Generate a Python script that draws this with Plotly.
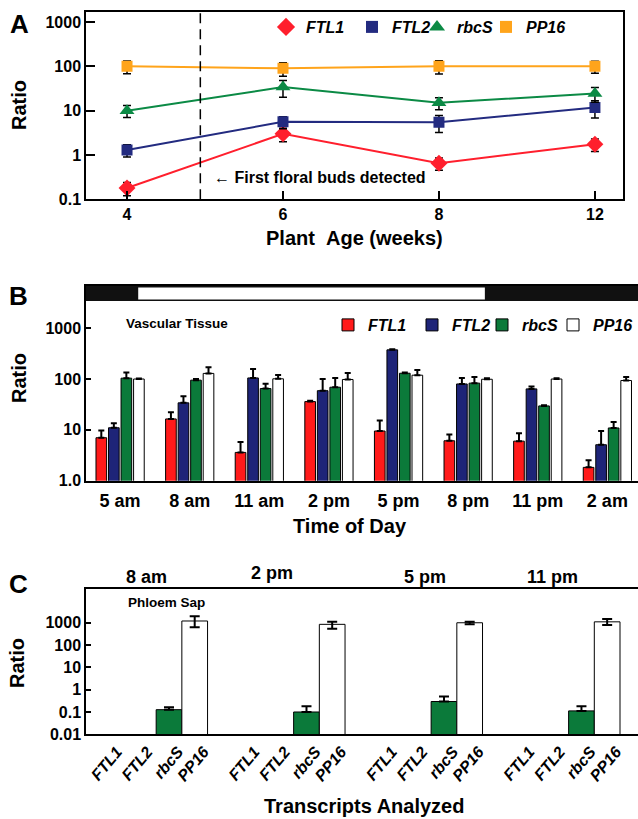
import plotly.graph_objects as go

W, H = 638, 819
FONT = "Liberation Sans, Arial, Helvetica, sans-serif"

# ---------------- Panel A data ----------------
ages = ["4", "6", "8", "12"]
a_ftl1 = [0.18, 3.0, 0.65, 1.75]
a_ftl1_err = [0.06, 1.0, 0.2, 0.55]
a_ftl2 = [1.3, 5.6, 5.5, 11.8]
a_ftl2_err = [0.4, 1.7, 2.3, 5.0]
a_rbcs = [10, 34, 15, 24.5]
a_rbcs_err = [3, 14, 4.5, 9]
a_pp16 = [100, 90, 100, 100]
a_pp16_err = [32, 30, 33, 30]

# ---------------- Panel B data ----------------
times = ["5 am", "8 am", "11 am", "2 pm", "5 pm", "8 pm", "11 pm", "2 am"]
b_ftl1 = [7.0, 16.4, 3.6, 36, 9.5, 6.1, 6.0, 1.83]
b_ftl1_err = [2.7, 5.8, 2.2, 1.5, 5.7, 2.0, 2.6, 0.7]
b_ftl2 = [11, 34, 105, 59, 375, 80, 64, 5.1]
b_ftl2_err = [2.5, 12, 53, 41, 10, 25, 7, 4.4]
b_rbcs = [104, 95, 65, 69, 130, 83, 29.6, 10.9]
b_rbcs_err = [31, 5, 16, 36, 4.5, 27, 1, 3.4]
b_pp16 = [100, 129, 101, 98, 119, 99, 100, 93.5]
b_pp16_err = [3, 41, 19, 34, 32, 5, 4, 16]

# ---------------- Panel C data ----------------
c_times = ["8 am", "2 pm", "5 pm", "11 pm"]
c_genes = ["FTL1", "FTL2", "rbcS", "PP16"]
c_rbcs = [0.127, 0.10, 0.295, 0.112]
c_rbcs_err = [0.035, 0.08, 0.2, 0.07]
c_pp16 = [1200, 850, 1000, 1100]
c_pp16_err_plus = [750, 250, 120, 380]
c_pp16_err_minus = [570, 310, 150, 300]

# colours
A_COL = {"FTL1": "#FF1F2D", "FTL2": "#232B80", "rbcS": "#0B8A45", "PP16": "#FFA41B"}
B_COL = {"FTL1": "#FF1A1A", "FTL2": "#1E2478", "rbcS": "#0B7A3A", "PP16": "#FFFFFF"}


def px_x(x):
    return x / W


def px_y(y):
    return 1 - y / H


fig = go.Figure()

# ---- Panel A traces ----
a_series = [
    ("FTL1", a_ftl1, a_ftl1_err, "diamond", 13),
    ("FTL2", a_ftl2, a_ftl2_err, "square", 11),
    ("rbcS", a_rbcs, a_rbcs_err, "triangle-up", 13),
    ("PP16", a_pp16, a_pp16_err, "square", 11),
]
for name, vals, err, sym, size in a_series:
    fig.add_trace(go.Scatter(
        x=ages, y=vals, mode="lines+markers", name=name,
        line=dict(color=A_COL[name], width=2),
        marker=dict(symbol=sym, size=size, color=A_COL[name]),
        error_y=dict(type="data", array=err, color="black", thickness=1.5, width=4),
        xaxis="x", yaxis="y", showlegend=False))

# legend-only entries for panel A (markers only)
a_leg_x = [266, 352, 417, 486]
for i, (name, vals, err, sym, size) in enumerate(a_series):
    lg = "legend" if i == 0 else f"legend{i + 1}"
    fig.add_trace(go.Scatter(
        x=[None], y=[None], mode="markers", name=name,
        marker=dict(symbol=sym, size=size + 1, color=A_COL[name]),
        xaxis="x", yaxis="y", showlegend=True, legend=lg))

# ---- Panel B traces ----
b_series = [
    ("FTL1", b_ftl1, b_ftl1_err),
    ("FTL2", b_ftl2, b_ftl2_err),
    ("rbcS", b_rbcs, b_rbcs_err),
    ("PP16", b_pp16, b_pp16_err),
]
b_leg_x = [328, 412, 482, 553]
for i, (name, vals, err) in enumerate(b_series):
    fig.add_trace(go.Bar(
        x=times, y=vals, name=name,
        marker=dict(color=B_COL[name], line=dict(color="black", width=1)),
        error_y=dict(type="data", symmetric=False, array=err,
                     arrayminus=[0] * len(err), color="black", thickness=2, width=3),
        xaxis="x2", yaxis="y2", showlegend=True, legend=f"legend{i + 5}"))

# ---- Panel C traces ----
GROUP_STEP = 5.35
gene_offsets = [-2.38, -1.19, 0.0, 1.0]
c_rbcs_x = [g * GROUP_STEP + gene_offsets[2] for g in range(len(c_times))]
c_pp16_x = [g * GROUP_STEP + gene_offsets[3] for g in range(len(c_times))]
fig.add_trace(go.Bar(
    x=c_rbcs_x, y=c_rbcs, width=1, offset=-0.5, name="rbcS",
    marker=dict(color=B_COL["rbcS"], line=dict(color="black", width=1)),
    error_y=dict(type="data", symmetric=False, array=c_rbcs_err,
                 arrayminus=[0] * 4, color="black", thickness=2, width=5),
    xaxis="x3", yaxis="y3", showlegend=False))
fig.add_trace(go.Bar(
    x=c_pp16_x, y=c_pp16, width=1, offset=-0.5, name="PP16",
    marker=dict(color="white", line=dict(color="black", width=1)),
    error_y=dict(type="data", symmetric=False, array=c_pp16_err_plus,
                 arrayminus=c_pp16_err_minus, color="black", thickness=2, width=5),
    xaxis="x3", yaxis="y3", showlegend=False))

c_tickvals = [g * GROUP_STEP + off for g in range(len(c_times)) for off in gene_offsets]
c_ticktext = [gname for g in range(len(c_times)) for gname in c_genes]

# ---------------- Layout ----------------
tickfont = dict(family=FONT, size=16, color="black", weight="bold")
axis_common = dict(showline=True, linecolor="black", linewidth=1.5, showgrid=False,
                   zeroline=False, tickcolor="black", automargin=False)

xa = dict(domain=[px_x(86), px_x(623)], anchor="y", type="category",
          categoryorder="array", categoryarray=ages, range=[-0.263, 3.18],
          ticks="inside", ticklen=9, tickwidth=1.5, mirror=True,
          tickfont=tickfont, **axis_common)
ya = dict(domain=[px_y(199.3), px_y(12)], anchor="x", type="log", range=[-1, 3.226],
          tickvals=[0.1, 1, 10, 100, 1000], ticktext=["0.1", "1", "10", "100", "1000"],
          ticks="inside", ticklen=9, tickwidth=1.5, mirror=True,
          tickfont=tickfont, **axis_common)

xb = dict(domain=[px_x(86), 1.0], anchor="y2", type="category",
          categoryorder="array", categoryarray=times, range=[-0.49, 7.44],
          ticks="", mirror=True, ticklabelstandoff=3,
          tickfont=dict(family=FONT, size=18, color="black", weight="bold"), **axis_common)
yb = dict(domain=[px_y(480.7), px_y(286)], anchor="x2", type="log", range=[0, 3.83],
          tickvals=[1, 10, 100, 1000], ticktext=["1.0", "10", "100", "1000"],
          ticks="inside", ticklen=5, tickwidth=1.5,
          tickfont=tickfont, **axis_common)

xc = dict(domain=[px_x(86), 1.0], anchor="y3", range=[-3.23, 18.25],
          tickvals=c_tickvals, ticktext=c_ticktext, tickangle=-50, ticks="", mirror=True,
          ticklabelshift=9,
          tickfont=dict(family=FONT, size=16, color="black", weight="bold", style="italic"),
          **axis_common)
yc = dict(domain=[px_y(734.3), px_y(589.3)], anchor="x3", type="log", range=[-2, 4.5],
          tickvals=[0.01, 0.1, 1, 10, 100, 1000],
          ticktext=["0.01", "0.1", "1", "10", "100", "1000"],
          ticks="inside", ticklen=5, tickwidth=1.5,
          tickfont=tickfont, **axis_common)

legfont = dict(family=FONT, size=16, color="black", weight="bold", style="italic")
legends = {}
for i, lx in enumerate(a_leg_x):
    key = "legend" if i == 0 else f"legend{i + 1}"
    legends[key] = dict(x=px_x(lx), y=px_y(27), xref="container", yref="container",
                        xanchor="left", yanchor="middle",
                        orientation="h", bgcolor="rgba(0,0,0,0)", font=legfont,
                        itemwidth=30)
for i, lx in enumerate(b_leg_x):
    legends[f"legend{i + 5}"] = dict(x=px_x(lx), y=px_y(325), xref="container",
                                     yref="container", xanchor="left",
                                     yanchor="middle", orientation="h",
                                     bgcolor="rgba(0,0,0,0)", font=legfont, itemwidth=30)

annotations = []


def ann(text, x, y, size, angle=0, xanchor="center", italic=False):
    annotations.append(dict(
        text=text, x=px_x(x), y=px_y(y), xref="paper", yref="paper",
        xanchor=xanchor, yanchor="middle", showarrow=False, textangle=angle,
        font=dict(family=FONT, size=size, color="black", weight="bold",
                  style="italic" if italic else "normal")))


ann("A", 19, 24, 26)
ann("B", 18, 296, 26)
ann("C", 18, 584, 26)
ann("Ratio", 19, 105, 20, angle=-90)
ann("Ratio", 19, 378, 20, angle=-90)
ann("Ratio", 17, 663, 20, angle=-90)
ann("Plant\u00a0\u00a0Age (weeks)", 354, 238, 20)
ann("Time of Day", 350, 526, 20)
ann("Transcripts Analyzed", 364, 806, 20)
ann("\u2190 First floral buds detected", 212, 177, 16, xanchor="left")
ann("Vascular Tissue", 124, 324, 13.5, xanchor="left")
ann("Phloem Sap", 126, 602, 13.5, xanchor="left")
for t, (cx, cy) in zip(c_times, [(146, 577), (272, 573), (425, 577), (552, 577)]):
    ann(t, cx, cy, 18)

shapes = [
    # dashed line: first floral buds
    dict(type="line", xref="x", yref="y domain", x0=0.47, x1=0.47, y0=0, y1=1,
         line=dict(color="black", width=1.5, dash="10px,6px")),
    # light/dark bar for panel B
    dict(type="rect", xref="x2 domain", yref="y2 domain", x0=0, x1=1,
         y0=1 - 15 / 194.7, y1=1, fillcolor="#111111", line=dict(width=0)),
    dict(type="rect", xref="x2", yref="y2 domain", x0=0.26, x1=5.24,
         y0=1 - 13.5 / 194.7, y1=1 - 1.5 / 194.7, fillcolor="white", line=dict(width=0)),
]

fig.update_layout(
    width=W, height=H, margin=dict(l=0, r=0, t=0, b=0, autoexpand=False),
    paper_bgcolor="white", plot_bgcolor="white",
    xaxis=xa, yaxis=ya, xaxis2=xb, yaxis2=yb, xaxis3=xc, yaxis3=yc,
    barmode="group", bargap=0.28, bargroupgap=0.15,
    annotations=annotations, shapes=shapes,
    font=dict(family=FONT, color="black"),
    **legends,
)

fig.write_html(
    "out.html",
    config={"displayModeBar": False},
    post_script="document.body.style.margin='0px';document.body.style.overflow='hidden';",
)
